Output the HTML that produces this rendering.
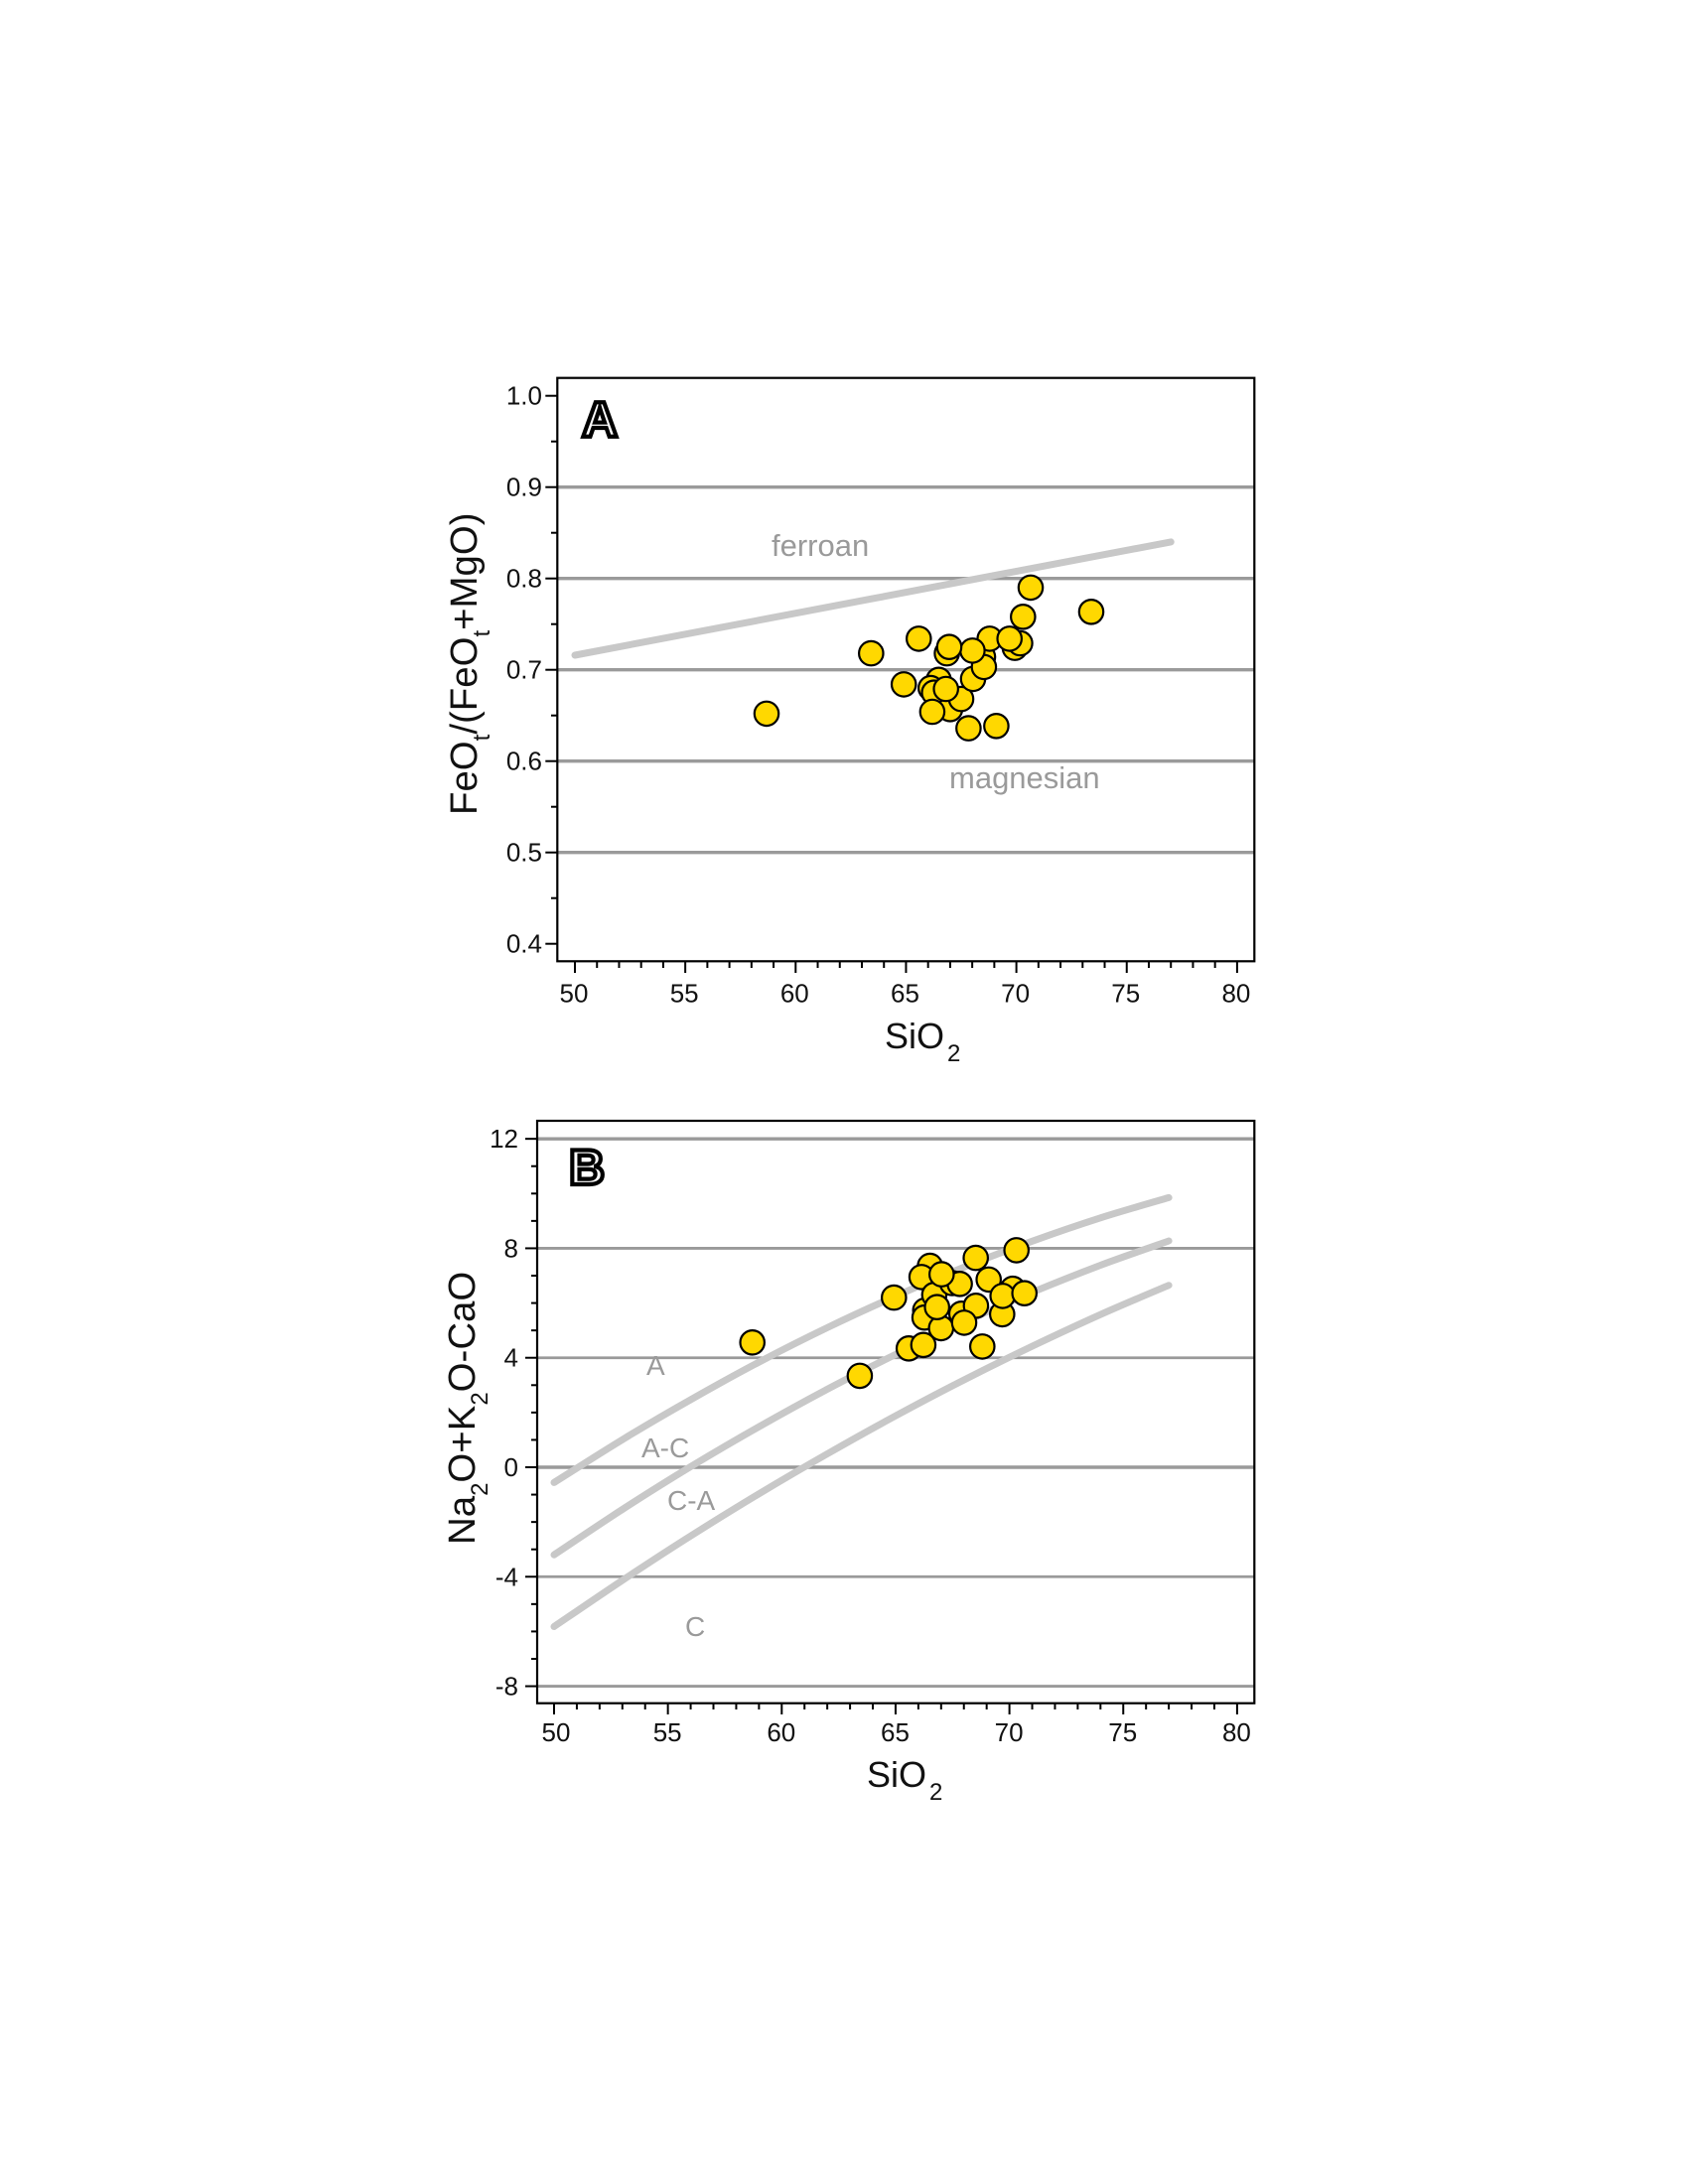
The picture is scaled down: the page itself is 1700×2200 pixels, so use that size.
<!DOCTYPE html>
<html lang="en">
<head>
<meta charset="utf-8">
<title>Geochemical classification diagrams</title>
<style>
html,body{margin:0;padding:0;background:#fff}
svg{display:block}
text{font-family:"Liberation Sans",Arial,sans-serif}
.tick{font-size:26px;fill:#111}
.title{font-size:36px;fill:#111}
.sub{font-size:24px}
.region{font-size:31px;fill:#9a9a9a}
.region-b{font-size:28px;fill:#9a9a9a}
.letter{font-size:50px;font-weight:bold;fill:#fff;stroke:#000;stroke-width:4.2}
</style>
</head>
<body>
<svg id="root" xmlns="http://www.w3.org/2000/svg" width="1700" height="2200" viewBox="0 0 1700 2200">
  <rect width="1700" height="2200" fill="#fff"/>

  <g id="panelA">
    <g id="gridA"></g>
    <g id="curveA"></g>
    <text class="region" x="777" y="560">ferroan</text>
    <text class="region" x="956" y="794">magnesian</text>
    <g id="pointsA"></g>
    <rect x="561.3" y="380.7" width="702" height="587.6" fill="none" stroke="#000" stroke-width="2.2"/>
    <g id="ticksA"></g>
    <text class="letter" x="586" y="440">A</text>
    <text class="title" x="891" y="1056">SiO<tspan class="sub" dx="3" dy="13">2</tspan></text>
    <text class="title" style="font-size:38.4px" transform="translate(480 821) rotate(-90)">FeO<tspan class="sub" dy="13">t</tspan><tspan dy="-13">/(FeO</tspan><tspan class="sub" dy="13">t</tspan><tspan dy="-13">+MgO)</tspan></text>
  </g>

  <g id="panelB">
    <g id="gridB"></g>
    <g id="curvesB"></g>
    <text class="region-b" x="651" y="1385">A</text>
    <text class="region-b" x="646" y="1468">A-C</text>
    <text class="region-b" x="672" y="1521">C-A</text>
    <text class="region-b" x="690" y="1648">C</text>
    <g id="pointsB"></g>
    <rect x="541" y="1129" width="722.3" height="586.7" fill="none" stroke="#000" stroke-width="2.2"/>
    <g id="ticksB"></g>
    <text class="letter" x="573" y="1193">B</text>
    <text class="title" x="873" y="1800">SiO<tspan class="sub" dx="3" dy="13">2</tspan></text>
    <text class="title" style="font-size:38.4px" transform="translate(478 1556) rotate(-90)">Na<tspan class="sub" dy="13">2</tspan><tspan dy="-13">O+K</tspan><tspan class="sub" dy="13">2</tspan><tspan dy="-13">O-CaO</tspan></text>
  </g>
</svg>

<script>
// Shared x-axis
const xTickValues = [50, 55, 60, 65, 70, 75, 80];
const xTickLabels = ['50', '55', '60', '65', '70', '75', '80'];
const xMinorValues = [51, 52, 53, 54, 56, 57, 58, 59, 61, 62, 63, 64, 66, 67, 68, 69, 71, 72, 73, 74, 76, 77, 78, 79];

// Panel A axis
const yTickValuesA = [1.0, 0.9, 0.8, 0.7, 0.6, 0.5, 0.4];
const yTickLabelsA = ['1.0', '0.9', '0.8', '0.7', '0.6', '0.5', '0.4'];
const yMinorValuesA = [0.95, 0.85, 0.75, 0.65, 0.55, 0.45];
const gridValuesA = [0.9, 0.8, 0.7, 0.6, 0.5];

// Panel A boundary
const ferroanSiO2 = [50, 77];
const ferroanFeNumber = [0.716, 0.84];

// Panel A samples
const sio2A = [66.48, 66.12, 66.27, 67.0, 66.19, 67.5, 66.81, 67.83, 69.09, 68.04, 68.49, 68.53, 68.79, 68.01, 66.85, 66.96, 69.93, 70.17, 69.69, 70.3, 70.65, 73.39, 65.58, 63.42, 64.9, 58.68];
const feNumberA = [0.689, 0.68, 0.675, 0.657, 0.654, 0.668, 0.679, 0.636, 0.6385, 0.69, 0.714, 0.703, 0.734, 0.721, 0.718, 0.725, 0.724, 0.729, 0.734, 0.758, 0.79, 0.7635, 0.734, 0.718, 0.684, 0.652];

// Panel B axis
const yTickValuesB = [12, 8, 4, 0, -4, -8];
const yTickLabelsB = ['12', '8', '4', '0', '-4', '-8'];
const yMinorValuesB = [11, 10, 9, 7, 6, 5, 3, 2, 1, -1, -2, -3, -5, -6, -7];
const gridValuesB = [12, 8, 4, 0, -4, -8];

// Panel B boundaries
const boundarySiO2 = [50, 53, 56, 59, 62, 65, 68, 71, 74, 77];
const boundaryAlkalic = [-0.56, 1.01, 2.47, 3.84, 5.10, 6.25, 7.31, 8.26, 9.11, 9.85];
const boundaryAlkaliCalcic = [-3.2, -1.54, 0.02, 1.48, 2.85, 4.12, 5.30, 6.39, 7.38, 8.27];
const boundaryCalcAlkalic = [-5.82, -4.13, -2.51, -0.97, 0.49, 1.88, 3.19, 4.42, 5.58, 6.65];

// Panel B samples
const sio2B = [66.3, 66.51, 66.14, 66.27, 66.7, 67.89, 69.68, 70.15, 69.09, 69.7, 70.66, 68.53, 67.0, 68.01, 66.82, 67.49, 67.82, 67.02, 68.52, 70.31, 64.93, 63.43, 68.81, 65.58, 66.22, 58.71];
const maliB = [5.73, 7.36, 6.95, 5.47, 6.3, 5.61, 5.59, 6.52, 6.86, 6.26, 6.36, 5.9, 5.08, 5.28, 5.85, 6.73, 6.7, 7.05, 7.65, 7.93, 6.2, 3.34, 4.41, 4.34, 4.47, 4.56];

// Axis functions
function xA(v) { return 579 + (v - 50) * 22.23; }
function yA(v) { return 950.7 - (v - 0.4) * 920; }
function xB(v) { return 558 + (v - 50) * 22.93; }
function yB(v) { return 1478 - v * 27.57; }

const NS = 'http://www.w3.org/2000/svg';
function line(parent, x1, y1, x2, y2, color, width) {
  const el = document.createElementNS(NS, 'line');
  el.setAttribute('x1', x1);
  el.setAttribute('y1', y1);
  el.setAttribute('x2', x2);
  el.setAttribute('y2', y2);
  el.setAttribute('stroke', color);
  el.setAttribute('stroke-width', width);
  parent.appendChild(el);
  return el;
}
function label(parent, x, y, anchor, str) {
  const el = document.createElementNS(NS, 'text');
  el.setAttribute('x', x);
  el.setAttribute('y', y);
  el.setAttribute('text-anchor', anchor);
  el.setAttribute('class', 'tick');
  el.textContent = str;
  parent.appendChild(el);
  return el;
}
// Smooth Catmull-Rom path through the data vertices
function curve(parent, xs, ys, fx, fy) {
  const px = xs.map(fx);
  const py = ys.map(fy);
  let d = 'M' + px[0].toFixed(1) + ' ' + py[0].toFixed(1);
  for (let i = 0; i < px.length - 1; i++) {
    const a = Math.max(i - 1, 0);
    const b = Math.min(i + 2, px.length - 1);
    const c1x = px[i] + (px[i + 1] - px[a]) / 6;
    const c1y = py[i] + (py[i + 1] - py[a]) / 6;
    const c2x = px[i + 1] - (px[b] - px[i]) / 6;
    const c2y = py[i + 1] - (py[b] - py[i]) / 6;
    d += 'C' + c1x.toFixed(1) + ' ' + c1y.toFixed(1) + ' ' + c2x.toFixed(1) + ' ' + c2y.toFixed(1) + ' ' + px[i + 1].toFixed(1) + ' ' + py[i + 1].toFixed(1);
  }
  const el = document.createElementNS(NS, 'path');
  el.setAttribute('d', d);
  el.setAttribute('fill', 'none');
  el.setAttribute('stroke', '#c8c8c8');
  el.setAttribute('stroke-width', 7);
  el.setAttribute('stroke-linecap', 'round');
  parent.appendChild(el);
  return el;
}
function point(parent, cx, cy) {
  const el = document.createElementNS(NS, 'circle');
  el.setAttribute('cx', cx.toFixed(1));
  el.setAttribute('cy', cy.toFixed(1));
  el.setAttribute('r', 12.2);
  el.setAttribute('fill', '#ffd800');
  el.setAttribute('stroke', '#000');
  el.setAttribute('stroke-width', 2.2);
  parent.appendChild(el);
  return el;
}

// Panel A
const gridA = document.getElementById('gridA');
const ticksA = document.getElementById('ticksA');
const curveA = document.getElementById('curveA');
const pointsA = document.getElementById('pointsA');
gridValuesA.forEach(function (v) {
  const el = line(gridA, 561, yA(v), 1263, yA(v), '#9a9a9a', 3.4);
  
  
});
yTickValuesA.forEach(function (v, i) {
  const t = line(ticksA, 549.3, yA(v), 561, yA(v), '#000', 2);
  
  
  const l = label(ticksA, 546, yA(v) + 9, 'end', yTickLabelsA[i]);
  
  
});
yMinorValuesA.forEach(function (v) {
  const t = line(ticksA, 555, yA(v), 561, yA(v), '#000', 2);
  
  
});
xTickValues.forEach(function (v, i) {
  const t = line(ticksA, xA(v), 968, xA(v), 980, '#000', 2);
  
  
  const l = label(ticksA, xA(v) - 1, 1009.5, 'middle', xTickLabels[i]);
  
  
});
xMinorValues.forEach(function (v) {
  const t = line(ticksA, xA(v), 968, xA(v), 975, '#000', 2);
  
  
});
const ferroanLine = curve(curveA, ferroanSiO2, ferroanFeNumber, xA, yA);


sio2A.forEach(function (v, i) {
  const c = point(pointsA, xA(v), yA(feNumberA[i]));
  
  
});

// Panel B
const gridB = document.getElementById('gridB');
const ticksB = document.getElementById('ticksB');
const curvesB = document.getElementById('curvesB');
const pointsB = document.getElementById('pointsB');
gridValuesB.forEach(function (v) {
  const el = line(gridB, 541, yB(v), 1263, yB(v), '#9a9a9a', v % 12 === 0 ? 3.4 : 2.8);
  
  
});
yTickValuesB.forEach(function (v, i) {
  const t = line(ticksB, 529, yB(v), 541, yB(v), '#000', 2);
  
  
  const l = label(ticksB, 522, yB(v) + 9, 'end', yTickLabelsB[i]);
  
  
});
yMinorValuesB.forEach(function (v) {
  const t = line(ticksB, 535, yB(v), 541, yB(v), '#000', 2);
  
  
});
xTickValues.forEach(function (v, i) {
  const t = line(ticksB, xB(v), 1715.7, xB(v), 1727, '#000', 2);
  
  
  const l = label(ticksB, xB(v) + (v === 50 ? 2 : -0.5), 1754, 'middle', xTickLabels[i]);
  
  
});
xMinorValues.forEach(function (v) {
  const t = line(ticksB, xB(v), 1715.7, xB(v), 1722, '#000', 2);
  
  
});
const alkalicLine = curve(curvesB, boundarySiO2, boundaryAlkalic, xB, yB);


const alkaliCalcicLine = curve(curvesB, boundarySiO2, boundaryAlkaliCalcic, xB, yB);


const calcAlkalicLine = curve(curvesB, boundarySiO2, boundaryCalcAlkalic, xB, yB);


sio2B.forEach(function (v, i) {
  const c = point(pointsB, xB(v), yB(maliB[i]));
  
  
});
</script>
</body>
</html>
